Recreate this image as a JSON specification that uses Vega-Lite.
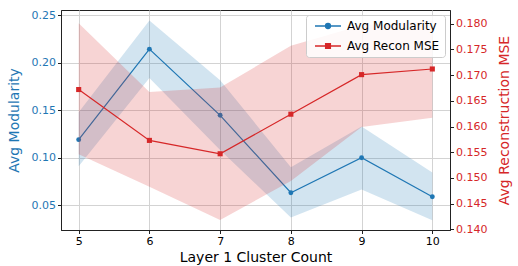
{
  "$schema": "https://vega.github.io/schema/vega-lite/v6.json",
  "width": 389,
  "height": 220,
  "autosize": "none",
  "padding": {"left": 61, "top": 10, "right": 68, "bottom": 36},
  "background": "white",
  "config": {
    "font": "DejaVu Sans",
    "view": {"stroke": "#222222", "strokeWidth": 1},
    "axis": {
      "labelFont": "DejaVu Sans", "labelFontSize": 11, "titleFont": "DejaVu Sans",
      "titleFontSize": 14, "titleFontWeight": "normal", "tickColor": "#222222",
      "domainColor": "#222222", "tickSize": 3.5, "labelPadding": 2, "gridColor": "#d3d3d3", "gridWidth": 1
    },
    "legend": {
      "labelFont": "DejaVu Sans", "labelFontSize": 12, "labelColor": "#000000",
      "symbolSize": 100, "labelOffset": 24, "rowPadding": 8, "symbolStrokeWidth": 1.3, "symbolOpacity": 1,
      "padding": 5, "fillColor": "rgba(255,255,255,0.85)", "strokeColor": "#cccccc", "cornerRadius": 3
    }
  },
  "data": {
    "values": [
      {"k": 5, "series": "Avg Modularity", "mean": 0.119, "lo": 0.091, "hi": 0.148},
      {"k": 6, "series": "Avg Modularity", "mean": 0.2145, "lo": 0.184, "hi": 0.2447},
      {"k": 7, "series": "Avg Modularity", "mean": 0.1447, "lo": 0.108, "hi": 0.1816},
      {"k": 8, "series": "Avg Modularity", "mean": 0.063, "lo": 0.037, "hi": 0.09},
      {"k": 9, "series": "Avg Modularity", "mean": 0.1, "lo": 0.0665, "hi": 0.133},
      {"k": 10, "series": "Avg Modularity", "mean": 0.0588, "lo": 0.034, "hi": 0.0844},
      {"k": 5, "series": "Avg Recon MSE", "mean": 0.1672, "lo": 0.1546, "hi": 0.1801},
      {"k": 6, "series": "Avg Recon MSE", "mean": 0.1573, "lo": 0.1483, "hi": 0.1667},
      {"k": 7, "series": "Avg Recon MSE", "mean": 0.1547, "lo": 0.1418, "hi": 0.1676},
      {"k": 8, "series": "Avg Recon MSE", "mean": 0.1624, "lo": 0.1494, "hi": 0.1757},
      {"k": 9, "series": "Avg Recon MSE", "mean": 0.1701, "lo": 0.1599, "hi": 0.1797},
      {"k": 10, "series": "Avg Recon MSE", "mean": 0.1712, "lo": 0.1617, "hi": 0.1806}
    ]
  },
  "encoding": {
    "x": {
      "field": "k", "type": "quantitative",
      "scale": {"domain": [4.75, 10.25], "nice": false, "zero": false},
      "axis": {"values": [5, 6, 7, 8, 9, 10], "format": "d", "title": "Layer 1 Cluster Count", "titlePadding": 4, "labelColor": "#000000", "titleColor": "#000000", "grid": true}
    }
  },
  "resolve": {"scale": {"y": "independent"}},
  "layer": [
    {
      "transform": [{"filter": "datum.series === 'Avg Modularity'"}],
      "layer": [
        {
          "mark": {"type": "area", "color": "#1f77b4", "opacity": 0.2},
          "encoding": {
            "y": {"field": "lo", "type": "quantitative", "scale": {"domain": [0.0237, 0.2558], "nice": false, "zero": false},
              "axis": {"orient": "left", "title": "Avg Modularity", "values": [0.05, 0.1, 0.15, 0.2, 0.25], "format": ".2f", "labelColor": "#1f77b4", "titleColor": "#1f77b4", "grid": true, "titlePadding": 10}},
            "y2": {"field": "hi"}
          }
        },
        {
          "mark": {"type": "line", "color": "#1f77b4", "strokeWidth": 1.2},
          "encoding": {
            "y": {"field": "mean", "type": "quantitative", "scale": {"domain": [0.0237, 0.2558], "nice": false, "zero": false},
              "axis": {"orient": "left", "title": "Avg Modularity", "values": [0.05, 0.1, 0.15, 0.2, 0.25], "format": ".2f", "labelColor": "#1f77b4", "titleColor": "#1f77b4", "grid": true, "titlePadding": 10}}
          }
        },
        {
          "mark": {"type": "point", "filled": true, "opacity": 1, "size": 24, "shape": "circle", "color": "#1f77b4"},
          "encoding": {
            "y": {"field": "mean", "type": "quantitative", "scale": {"domain": [0.0237, 0.2558], "nice": false, "zero": false},
              "axis": {"orient": "left", "title": "Avg Modularity", "values": [0.05, 0.1, 0.15, 0.2, 0.25], "format": ".2f", "labelColor": "#1f77b4", "titleColor": "#1f77b4", "grid": true, "titlePadding": 10}}
          }
        }
      ]
    },
    {
      "transform": [{"filter": "datum.series === 'Avg Recon MSE'"}],
      "layer": [
        {
          "mark": {"type": "area", "color": "#d62728", "opacity": 0.2},
          "encoding": {
            "y": {"field": "lo", "type": "quantitative", "scale": {"domain": [0.13986, 0.18268], "nice": false, "zero": false},
              "axis": {"orient": "right", "title": "Avg Reconstruction MSE", "values": [0.14, 0.145, 0.15, 0.155, 0.16, 0.165, 0.17, 0.175, 0.18], "format": ".3f", "labelColor": "#d62728", "titleColor": "#d62728", "grid": false, "titlePadding": 11, "titleAngle": 270, "titleBaseline": "top"}},
            "y2": {"field": "hi"}
          }
        },
        {
          "mark": {"type": "line", "color": "#d62728", "strokeWidth": 1.2},
          "encoding": {
            "y": {"field": "mean", "type": "quantitative", "scale": {"domain": [0.13986, 0.18268], "nice": false, "zero": false},
              "axis": {"orient": "right", "title": "Avg Reconstruction MSE", "values": [0.14, 0.145, 0.15, 0.155, 0.16, 0.165, 0.17, 0.175, 0.18], "format": ".3f", "labelColor": "#d62728", "titleColor": "#d62728", "grid": false, "titlePadding": 11, "titleAngle": 270, "titleBaseline": "top"}}
          }
        },
        {
          "mark": {"type": "point", "filled": true, "opacity": 1, "size": 26, "shape": "square", "color": "#d62728"},
          "encoding": {
            "y": {"field": "mean", "type": "quantitative", "scale": {"domain": [0.13986, 0.18268], "nice": false, "zero": false},
              "axis": {"orient": "right", "title": "Avg Reconstruction MSE", "values": [0.14, 0.145, 0.15, 0.155, 0.16, 0.165, 0.17, 0.175, 0.18], "format": ".3f", "labelColor": "#d62728", "titleColor": "#d62728", "grid": false, "titlePadding": 11, "titleAngle": 270, "titleBaseline": "top"}}
          }
        }
      ]
    },
    {
      "transform": [{"filter": "datum.k > 100"}],
      "mark": {"type": "point", "filled": false, "opacity": 1, "strokeWidth": 1.3},
      "encoding": {
        "stroke": {
          "field": "series", "type": "nominal",
          "scale": {"domain": ["Avg Modularity", "Avg Recon MSE"], "range": ["#1f77b4", "#d62728"]},
          "legend": {"orient": "top-right", "offset": 5, "title": null}
        },
        "fill": {
          "field": "series", "type": "nominal",
          "scale": {"domain": ["Avg Modularity", "Avg Recon MSE"], "range": ["#1f77b4", "#d62728"]},
          "legend": {"orient": "top-right", "offset": 5, "title": null}
        },
        "shape": {
          "field": "series", "type": "nominal",
          "scale": {"domain": ["Avg Modularity", "Avg Recon MSE"], "range": ["M-0.4,0H4.8M2.7,0A0.5,0.5,0,1,1,1.7,0A0.5,0.5,0,1,1,2.7,0Z", "M-0.4,0H4.8M1.72,-0.48H2.68V0.48H1.72Z"]},
          "legend": {"orient": "top-right", "offset": 5, "title": null}
        }
      }
    }
  ]
}
